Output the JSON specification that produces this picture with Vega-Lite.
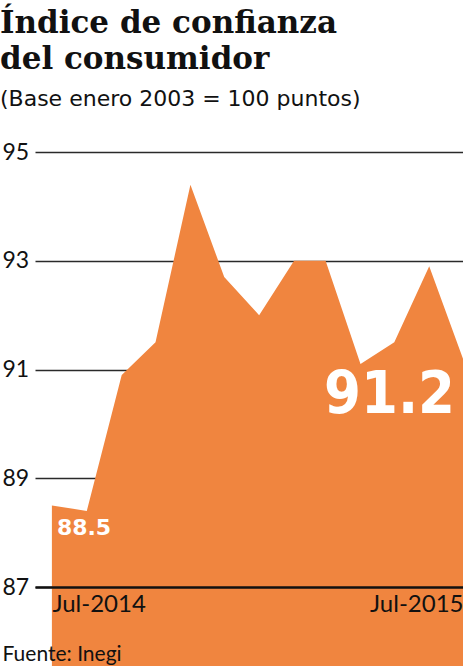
{
  "$schema": "https://vega.github.io/schema/vega-lite/v6.json",
  "width": 428,
  "height": 435,
  "autosize": {"type": "none"},
  "padding": {"left": 35, "top": 152, "right": 0, "bottom": 79},
  "background": "#ffffff",
  "config": {"view": {"stroke": null}},
  "title": {
    "text": ["Índice de confianza", "del consumidor"],
    "subtitle": "(Base enero 2003 = 100 puntos)",
    "anchor": "start",
    "frame": "group",
    "dx": -35,
    "offset": 30,
    "font": "DejaVu Serif",
    "fontWeight": "bold",
    "fontSize": 31,
    "lineHeight": 36,
    "color": "#111111",
    "subtitleFont": "DejaVu Sans",
    "subtitleFontSize": 22,
    "subtitleColor": "#111111",
    "subtitlePadding": 13
  },
  "data": {
    "values": [
      {"fecha": "2014-07-01", "valor": 88.5},
      {"fecha": "2014-08-01", "valor": 88.4},
      {"fecha": "2014-09-01", "valor": 90.9},
      {"fecha": "2014-10-01", "valor": 91.5},
      {"fecha": "2014-11-01", "valor": 94.4},
      {"fecha": "2014-12-01", "valor": 92.7},
      {"fecha": "2015-01-01", "valor": 92.0},
      {"fecha": "2015-02-01", "valor": 93.0},
      {"fecha": "2015-03-01", "valor": 93.0},
      {"fecha": "2015-04-01", "valor": 91.1},
      {"fecha": "2015-05-01", "valor": 91.5},
      {"fecha": "2015-06-01", "valor": 92.9},
      {"fecha": "2015-07-01", "valor": 91.2}
    ]
  },
  "encoding": {
    "x": {
      "field": "fecha",
      "type": "temporal",
      "scale": {
        "type": "utc",
        "domain": [
          {"year": 2014, "month": 6, "date": 16, "utc": true},
          {"year": 2015, "month": 7, "date": 1, "utc": true}
        ]
      },
      "axis": {
        "values": [
          {"year": 2014, "month": 7, "date": 1, "utc": true},
          {"year": 2015, "month": 7, "date": 1, "utc": true}
        ],
        "labelExpr": "utcFormat(datum.value, '%b-%Y')",
        "labelAlign": {"condition": {"test": "utcyear(datum.value) == 2014", "value": "left"}, "value": "right"},
        "labelFont": "Lato",
        "labelFontSize": 24,
        "labelColor": "#111111",
        "labelPadding": 5,
        "labelBound": false,
        "labelOverlap": false,
        "labelFlush": false,
        "ticks": false,
        "tickSize": 0,
        "grid": false,
        "domain": true,
        "domainColor": "#111111",
        "domainWidth": 2.5,
        "zindex": 1,
        "title": "Fuente: Inegi",
        "titleFont": "Lato",
        "titleFontSize": 21,
        "titleFontWeight": "normal",
        "titleColor": "#111111",
        "titleAlign": "left",
        "titleAnchor": "start",
        "titleBaseline": "alphabetic",
        "titleX": -33,
        "titleY": 73
      }
    },
    "y": {
      "field": "valor",
      "type": "quantitative",
      "scale": {"domain": [87, 95], "zero": false, "nice": false},
      "axis": {
        "values": [87, 89, 91, 93, 95],
        "title": null,
        "domain": false,
        "ticks": false,
        "tickSize": 0,
        "grid": true,
        "gridColor": "#2a2a2a",
        "gridWidth": 1.6,
        "labelFont": "Lato",
        "labelFontSize": 23,
        "labelColor": "#111111",
        "labelAlign": "left",
        "labelBaseline": "middle",
        "labelPadding": 33
      }
    }
  },
  "layer": [
    {
      "mark": {"type": "area", "color": "#F0853F", "opacity": 1}
    },
    {
      "transform": [{"filter": "utcFormat(toDate(datum.fecha), '%Y-%m') == '2014-07'"}],
      "mark": {
        "type": "text",
        "align": "left",
        "baseline": "alphabetic",
        "dx": 5,
        "dy": 30,
        "font": "DejaVu Sans",
        "fontWeight": "bold",
        "fontSize": 22,
        "color": "#ffffff"
      },
      "encoding": {"text": {"field": "valor", "type": "quantitative", "format": ".1f"}}
    },
    {
      "transform": [{"filter": "utcFormat(toDate(datum.fecha), '%Y-%m') == '2015-07'"}],
      "mark": {
        "type": "text",
        "align": "right",
        "baseline": "alphabetic",
        "dx": -8,
        "dy": 54,
        "font": "DejaVu Sans Condensed",
        "fontWeight": "bold",
        "fontSize": 59,
        "color": "#ffffff"
      },
      "encoding": {"text": {"field": "valor", "type": "quantitative", "format": ".1f"}}
    }
  ]
}
